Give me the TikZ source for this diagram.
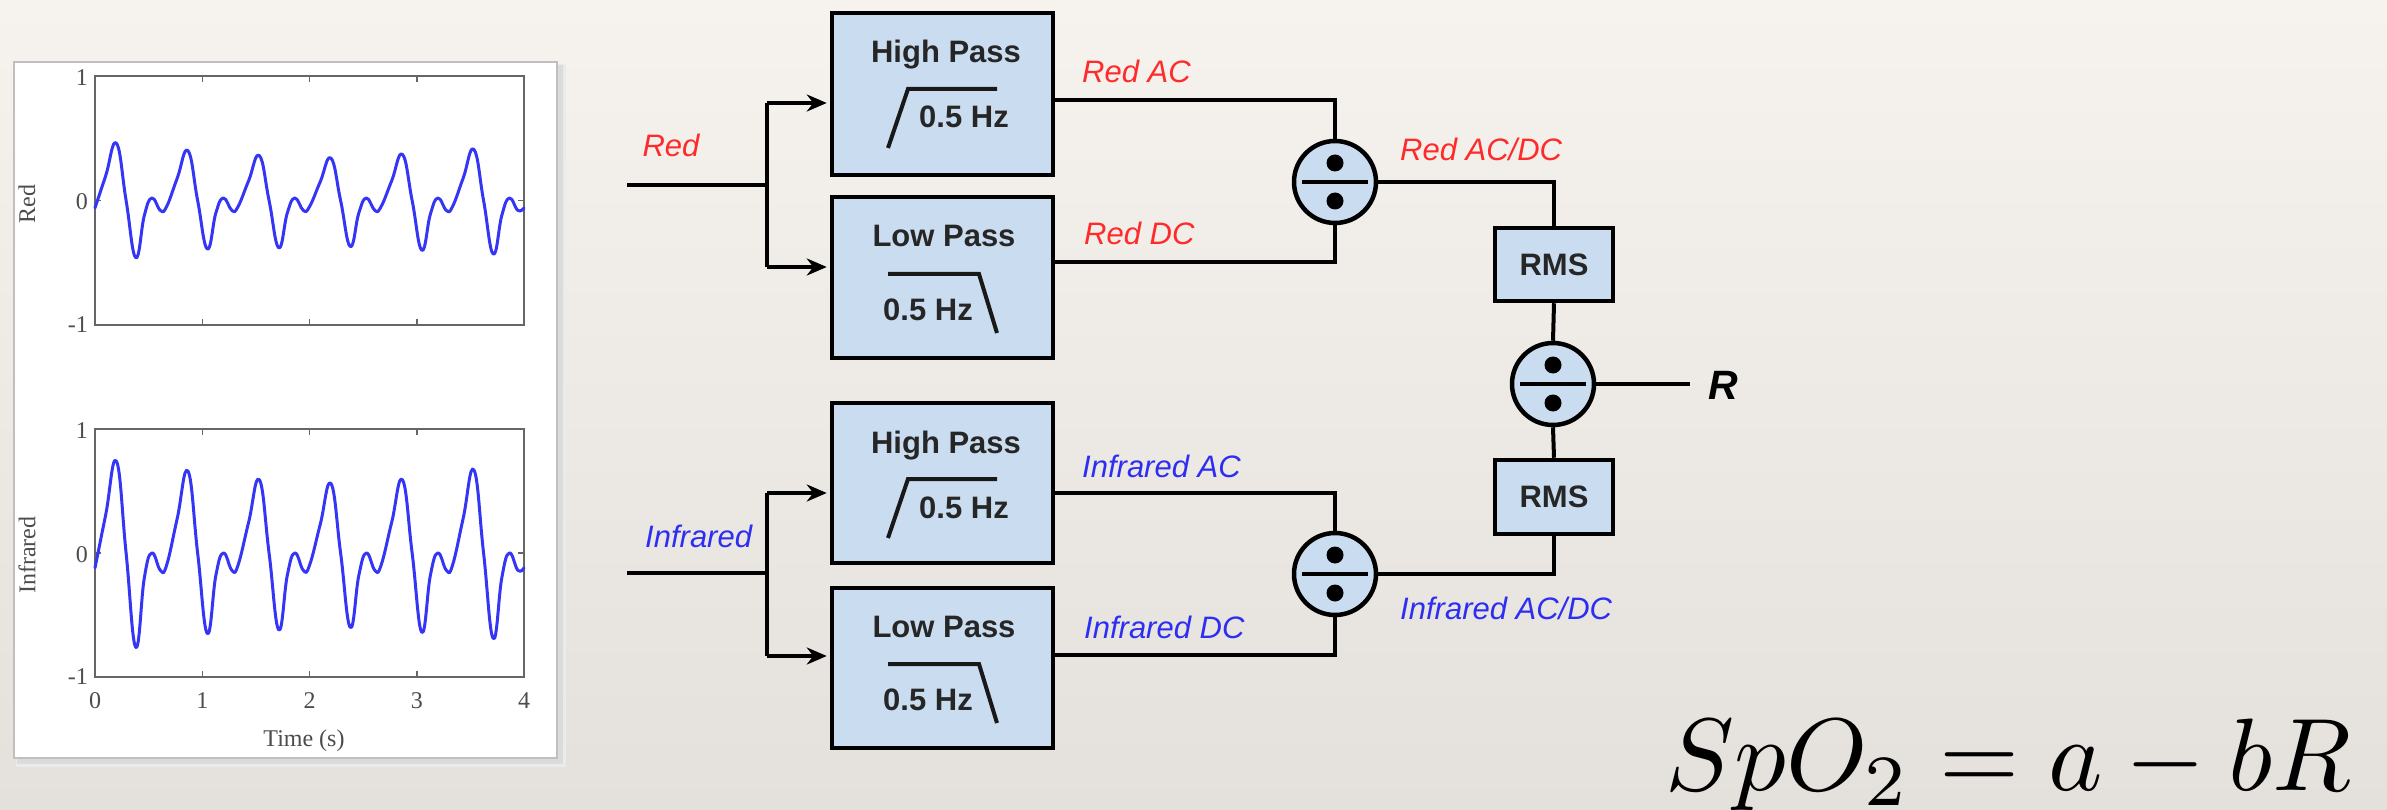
\documentclass[tikz,border=0pt]{standalone}
\usepackage{fontspec}
\usepackage{graphicx}
\setmainfont{Liberation Sans}
\newfontfamily\plotfont{Liberation Serif}
\usetikzlibrary{arrows.meta,calc}
\definecolor{bgtop}{HTML}{F6F3EE}
\definecolor{bgbot}{HTML}{E4E1DC}
\definecolor{boxfill}{HTML}{CADDF0}
\definecolor{sigred}{HTML}{FF2A2A}
\definecolor{sigblue}{HTML}{2E2EF2}
\definecolor{curvecol}{HTML}{3535F6}
\begin{document}
\begin{tikzpicture}[x=1pt,y=-1pt,
  blk/.style={draw=black, line width=4.5pt, fill=boxfill, inner sep=0pt, minimum width=221pt},
  divnode/.style={draw=black, circle, line width=4.5pt, fill=boxfill, minimum size=82pt, inner sep=0pt},
  wire/.style={line width=4pt, draw=black},
  arr/.style={wire, -{Stealth[length=20pt,width=17pt]}, shorten >=3pt},
  btxt/.style={font=\fontsize{31}{36}\selectfont\bfseries, text=black!85, inner sep=0pt},
  lbl/.style={font=\fontsize{31}{36}\selectfont\itshape, inner sep=0pt},
  ticklbl/.style={font=\plotfont\fontsize{24}{28}\selectfont, text=black!70, inner sep=0pt},
  axbox/.style={draw=black!60, line width=2pt},
  sym/.style={line width=4pt, draw=black!90},
  sig/.style={draw=curvecol, line width=3pt, line join=round, line cap=round},
]
% background
\shade[top color=bgtop, bottom color=bgbot] (0,0) rectangle (2387,810);
\useasboundingbox (0,0) rectangle (2387,810);

% ---------- plot panel ----------
\fill[black!8] (16,64) rectangle (566,767);
\fill[black!14] (17,65) rectangle (563,764);
\draw[fill=white, draw=black!25, line width=1.5pt] (14,62) rectangle (557,758);
\draw[axbox] (95,76) rectangle (524,325);
\draw[axbox] (95,429) rectangle (524,677);
\foreach \tx in {95,202.25,309.5,416.75,524}{
  \draw[black!60, line width=1.5pt] (\tx,76) -- (\tx,82);
  \draw[black!60, line width=1.5pt] (\tx,325) -- (\tx,319);
  \draw[black!60, line width=1.5pt] (\tx,429) -- (\tx,435);
  \draw[black!60, line width=1.5pt] (\tx,677) -- (\tx,671);
}
\foreach \ty in {200.5,553}{
  \draw[black!60, line width=1.5pt] (95,\ty) -- (101,\ty);
  \draw[black!60, line width=1.5pt] (524,\ty) -- (518,\ty);
}
\node[ticklbl, anchor=east] (ya1) at (88,78) {1};
\node[ticklbl, anchor=east] (ya0) at (88,202) {0};
\node[ticklbl, anchor=east] (yam) at (88,325) {-1};
\node[ticklbl, anchor=east] (yb1) at (88,431) {1};
\node[ticklbl, anchor=east] (yb0) at (88,555) {0};
\node[ticklbl, anchor=east] (ybm) at (88,677) {-1};
\node[ticklbl] (x0) at (95,701) {0};
\node[ticklbl] (x1) at (202.25,701) {1};
\node[ticklbl] (x2) at (309.5,701) {2};
\node[ticklbl] (x3) at (416.75,701) {3};
\node[ticklbl] (x4) at (524,701) {4};
\node[ticklbl] (xl) at (304,741) {Time (s)};
\node[ticklbl, rotate=90] (yl1) at (27,204) {Red};
\node[ticklbl, rotate=90] (yl2) at (27,555) {Infrared};

\begin{scope}[shift={(95,200.5)}, x=107.25pt, y=124.5pt]
\draw[sig] plot[smooth, tension=0.75] coordinates {
(0,-0.06) (0.10,0.20) (0.20,0.46) (0.29,0.0) (0.38,-0.46) (0.46,-0.12) (0.53,0.02) (0.61,-0.08)
(0.667,-0.05) (0.767,0.18) (0.867,0.40) (0.957,0.0) (1.047,-0.39) (1.127,-0.10) (1.197,0.02) (1.277,-0.08)
(1.333,-0.05) (1.433,0.16) (1.533,0.36) (1.623,0.0) (1.713,-0.38) (1.793,-0.10) (1.863,0.02) (1.943,-0.08)
(2.0,-0.05) (2.10,0.15) (2.20,0.34) (2.29,0.0) (2.38,-0.37) (2.46,-0.10) (2.53,0.02) (2.61,-0.08)
(2.667,-0.05) (2.767,0.16) (2.867,0.37) (2.957,0.0) (3.047,-0.40) (3.127,-0.11) (3.197,0.02) (3.277,-0.08)
(3.333,-0.05) (3.433,0.18) (3.533,0.41) (3.623,0.0) (3.713,-0.43) (3.793,-0.12) (3.863,0.02) (3.943,-0.08) (4.0,-0.06)};
\end{scope}
\begin{scope}[shift={(95,553)}, x=107.25pt, y=124pt]
\draw[sig] plot[smooth, tension=0.75] coordinates {
(0,-0.12) (0.10,0.31) (0.20,0.74) (0.29,0.0) (0.38,-0.76) (0.46,-0.20) (0.53,0.0) (0.61,-0.14)
(0.667,-0.10) (0.767,0.28) (0.867,0.66) (0.957,0.0) (1.047,-0.65) (1.127,-0.18) (1.197,0.0) (1.277,-0.14)
(1.333,-0.10) (1.433,0.25) (1.533,0.59) (1.623,0.0) (1.713,-0.62) (1.793,-0.18) (1.863,0.0) (1.943,-0.14)
(2.0,-0.10) (2.10,0.23) (2.20,0.56) (2.29,0.0) (2.38,-0.60) (2.46,-0.18) (2.53,0.0) (2.61,-0.14)
(2.667,-0.10) (2.767,0.25) (2.867,0.59) (2.957,0.0) (3.047,-0.64) (3.127,-0.18) (3.197,0.0) (3.277,-0.14)
(3.333,-0.10) (3.433,0.28) (3.533,0.67) (3.623,0.0) (3.713,-0.69) (3.793,-0.20) (3.863,0.0) (3.943,-0.14) (4.0,-0.12)};
\end{scope}

% ---------- filter boxes ----------
\node[blk, minimum height=162pt] (hpR) at (942.5,94) {};
\node[blk, minimum height=161pt] (lpR) at (942.5,277.5) {};
\node[blk, minimum height=160pt] (hpI) at (942.5,483) {};
\node[blk, minimum height=160pt] (lpI) at (942.5,668) {};

\node[btxt, anchor=base] (hpRt) at (946,63) {High Pass};
\node[btxt, anchor=base] (hpRf) at (964,128) {0.5 Hz};
\node[btxt, anchor=base] (lpRt) at (944,247) {Low Pass};
\node[btxt, anchor=base] (lpRf) at (928,320) {0.5 Hz};
\node[btxt, anchor=base] (hpIt) at (946,453) {High Pass};
\node[btxt, anchor=base] (hpIf) at (964,518) {0.5 Hz};
\node[btxt, anchor=base] (lpIt) at (944,637) {Low Pass};
\node[btxt, anchor=base] (lpIf) at (928,710) {0.5 Hz};

\draw[sym] (888,148) -- (908,89) -- (997,89);
\draw[sym] (888,274) -- (979,274) -- (997,333);
\draw[sym] (888,538) -- (908,479) -- (997,479);
\draw[sym] (888,664) -- (979,664) -- (997,723);

% ---------- dividers and RMS ----------
\node[divnode] (divR) at (1335,182) {};
\node[divnode] (div2) at (1553,384) {};
\node[divnode] (divI) at (1335,574) {};
\foreach \n in {divR,div2,divI}{
  \fill[black] ([yshift=19pt]\n.center) circle (8.5pt);
  \fill[black] ([yshift=-19pt]\n.center) circle (8.5pt);
  \draw[line width=4.5pt] ([xshift=-33pt]\n.center) -- ([xshift=33pt]\n.center);
}
\node[blk, minimum width=118pt, minimum height=73pt, font=\fontsize{31}{36}\selectfont\bfseries, text=black!85] (rms1) at (1554,264.5) {RMS};
\node[blk, minimum width=118pt, minimum height=74pt, font=\fontsize{31}{36}\selectfont\bfseries, text=black!85] (rms2) at (1554,497) {RMS};

% ---------- wires ----------
\coordinate (inR) at (627,185);
\coordinate (jR) at (767,185);
\coordinate (jRt) at (767,103);
\coordinate (jRb) at (767,267);
\coordinate (oR1) at (1100,100);
\coordinate (oR2) at (1100,262);
\coordinate (inI) at (627,573);
\coordinate (jI) at (767,573);
\coordinate (jIt) at (767,493);
\coordinate (jIb) at (767,656);
\coordinate (oI1) at (1100,493);
\coordinate (oI2) at (1100,655);
\coordinate (Rend) at (1690,384);

\draw[wire] (inR) -- (jR);
\draw[wire] (jRt) -- (jRb);
\draw[arr] (jRt) -- (jRt -| hpR.west);
\draw[arr] (jRb) -- (jRb -| lpR.west);
\draw[wire] (hpR.east |- oR1) -| (divR.north);
\draw[wire] (lpR.east |- oR2) -| (divR.south);

\draw[wire] (inI) -- (jI);
\draw[wire] (jIt) -- (jIb);
\draw[arr] (jIt) -- (jIt -| hpI.west);
\draw[arr] (jIb) -- (jIb -| lpI.west);
\draw[wire] (hpI.east |- oI1) -| (divI.north);
\draw[wire] (lpI.east |- oI2) -| (divI.south);

\draw[wire] (divR.east) -| (rms1.north);
\draw[wire] (rms1.south) -- (div2.north);
\draw[wire] (div2.south) -- (rms2.north);
\draw[wire] (divI.east) -| (rms2.south);
\draw[wire] (div2.east) -- (Rend);

% ---------- labels ----------
\node[lbl, text=sigred, anchor=base] (lRed) at (671,157) {Red};
\node[lbl, text=sigred, anchor=base west] (lRAC) at (1082,83) {Red AC};
\node[lbl, text=sigred, anchor=base west] (lRDC) at (1084,245) {Red DC};
\node[lbl, text=sigred, anchor=base west] (lRR) at (1400,161) {Red AC/DC};
\node[lbl, text=sigblue, anchor=base west] (lIr) at (645,547) {Infrared};
\node[lbl, text=sigblue, anchor=base west] (lIAC) at (1082,477) {Infrared AC};
\node[lbl, text=sigblue, anchor=base west] (lIDC) at (1084,638) {Infrared DC};
\node[lbl, text=sigblue, anchor=base west] (lIR) at (1400,619) {Infrared AC/DC};
\node[font=\fontsize{41}{46}\selectfont\bfseries\itshape, anchor=base west, inner sep=0pt] (Rlab) at (1708,399) {R};

% ---------- formula ----------
\node[anchor=base west, inner sep=0pt] (eq) at (1665,790) {\scalebox{10.3}{$SpO_2 = a - bR$}};
\end{tikzpicture}
\end{document}
